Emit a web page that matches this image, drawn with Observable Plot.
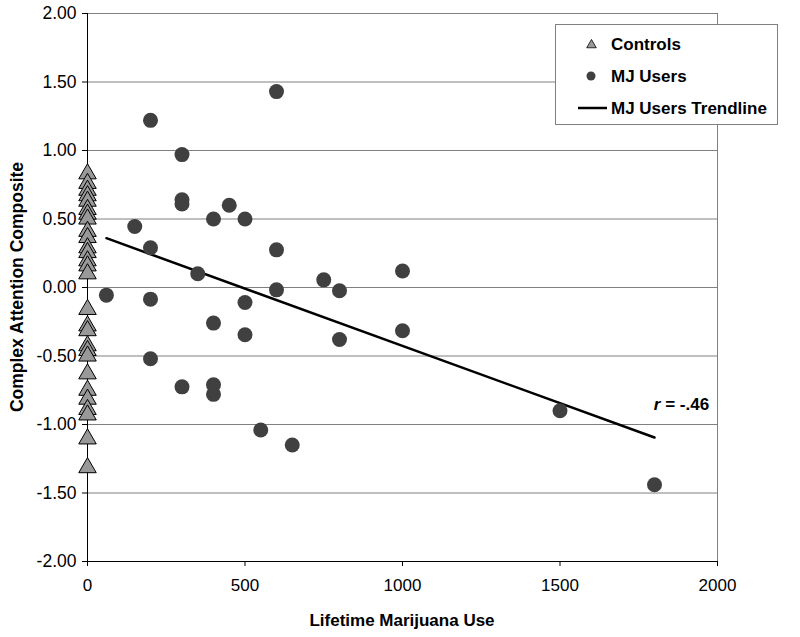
<!DOCTYPE html>
<html><head><meta charset="utf-8">
<script src="https://cdn.jsdelivr.net/npm/d3@7"></script>
<script src="https://cdn.jsdelivr.net/npm/@observablehq/plot@0.6"></script>
<style>body{margin:0;background:#fff} #chart{width:800px;height:637px}</style>
</head><body><div id="chart"></div>
<script>
// Controls: all at lifetime use = 0
const controlY = [0.83, 0.76, 0.71, 0.67, 0.63, 0.57, 0.535, 0.50, 0.41, 0.365, 0.29, 0.255, 0.195, 0.158, 0.10,
  -0.16, -0.28, -0.315, -0.425, -0.46, -0.50, -0.63, -0.75, -0.815, -0.89, -0.93, -1.105, -1.315];
// MJ users
const userX = [600, 200, 300, 300, 300, 450, 400, 500, 150, 200, 600, 350, 750, 800, 600, 60, 200, 500,
  1000, 400, 500, 800, 1000, 200, 300, 400, 400, 550, 650, 1500, 1800];
const userY = [1.43, 1.22, 0.97, 0.64, 0.61, 0.60, 0.50, 0.50, 0.445, 0.29, 0.275, 0.10, 0.056, -0.024, -0.017, -0.056, -0.085, -0.11,
  0.12, -0.26, -0.345, -0.38, -0.316, -0.52, -0.725, -0.71, -0.78, -1.04, -1.15, -0.90, -1.44];
// Trendline end points
const trendX = [60, 1800];
const trendY = [0.36, -1.095];
const xTicks = [0, 500, 1000, 1500, 2000];
const yTicks = [-2, -1.5, -1, -0.5, 0, 0.5, 1, 1.5, 2];
const legendLabels = ["Controls", "MJ Users", "MJ Users Trendline"];
const rParts = ["r", " = -.46"];
const xTitle = "Lifetime Marijuana Use";
const yTitle = "Complex Attention Composite";

const controls = controlY.map(y => ({x: 0, y}));
const users = userX.map((x, i) => ({x, y: userY[i]}));
const trend = trendX.map((x, i) => ({x, y: trendY[i]}));

const FONT = "'Liberation Sans', Arial, sans-serif";
const plot = Plot.plot({
  width: 800, height: 637,
  marginLeft: 87, marginRight: 83, marginTop: 13, marginBottom: 76,
  style: {fontFamily: FONT, background: "#fff", color: "#000"},
  x: {domain: [0, 2000]},
  y: {domain: [-2, 2]},
  marks: [
    Plot.gridY(yTicks, {stroke: "#808080", strokeOpacity: 1}),
    Plot.frame({stroke: "#808080"}),
    Plot.ruleY([-2], {stroke: "#000"}),
    Plot.ruleX([0], {stroke: "#000"}),
    Plot.axisY(yTicks, {tickFormat: d => d.toFixed(2), tickSize: 5, tickPadding: 6, fontSize: 17.5, label: null}),
    Plot.axisX(xTicks, {tickFormat: d => String(d), tickSize: 5, tickPadding: 12, fontSize: 17, label: null}),
    Plot.line(trend, {x: "x", y: "y", stroke: "#000", strokeWidth: 2.5}),
    Plot.dot(users, {x: "x", y: "y", r: 7.5, fill: "#404040", stroke: null}),
    Plot.dot(controls, {x: "x", y: "y", symbol: "triangle", r: 6.5, fill: "#999999", stroke: "#000", strokeWidth: 1})
  ]
});
document.getElementById("chart").appendChild(plot);

const svg = d3.select(plot);
const sx = plot.scale("x"), sy = plot.scale("y");

// axis titles
svg.append("text").attr("x", 402).attr("y", 626).attr("text-anchor", "middle")
  .attr("font-family", FONT).attr("font-weight", "bold").attr("font-size", 17)
  .text(xTitle);
svg.append("text").attr("transform", "translate(23,287) rotate(-90)").attr("text-anchor", "middle")
  .attr("font-family", FONT).attr("font-weight", "bold").attr("font-size", 17.5)
  .text(yTitle);

// r annotation
const rt = svg.append("text").attr("x", sx.apply(1975)).attr("y", sy.apply(-0.90)).attr("text-anchor", "end")
  .attr("font-family", FONT).attr("font-weight", "bold").attr("font-size", 17);
rt.append("tspan").attr("font-style", "italic").text(rParts[0]);
rt.append("tspan").text(rParts[1]);

// legend
const lg = svg.append("g").attr("font-family", FONT).attr("font-weight", "bold").attr("font-size", 17)
  .attr("text-anchor", "start");
lg.append("rect").attr("x", 555.5).attr("y", 24.5).attr("width", 222).attr("height", 100)
  .attr("fill", "#fff").attr("stroke", "#808080");
const rows = [44, 76, 108];
lg.append("path").attr("d", d3.symbol(d3.symbolTriangle, 40)()).attr("transform", `translate(591.5,${rows[0] + 1})`)
  .attr("fill", "#999").attr("stroke", "#000").attr("stroke-width", 0.8);
lg.append("circle").attr("cx", 591).attr("cy", rows[1]).attr("r", 4.5).attr("fill", "#404040");
lg.append("line").attr("x1", 578).attr("x2", 607).attr("y1", rows[2]).attr("y2", rows[2]).attr("stroke", "#000").attr("stroke-width", 2.5);
legendLabels.forEach((t, i) => {
  lg.append("text").attr("x", 611).attr("y", rows[i] + 6).attr("text-anchor", "start").text(t);
});
</script>
</body></html>
